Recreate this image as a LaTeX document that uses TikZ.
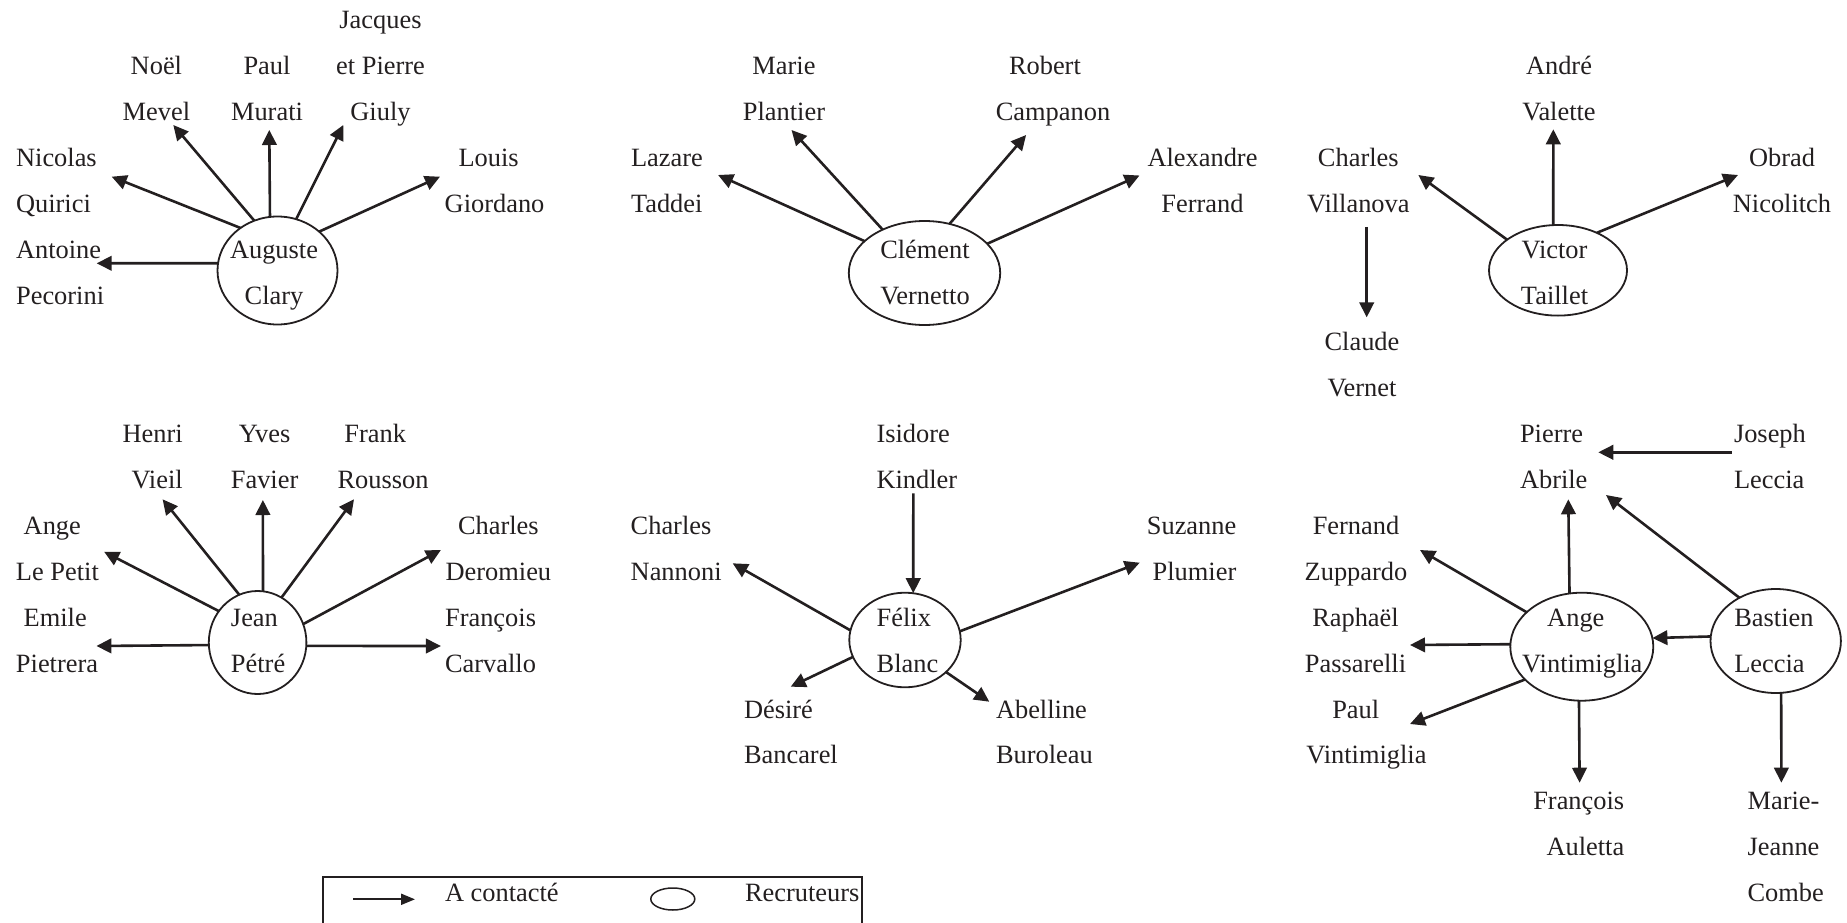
\documentclass[tikz,border=0pt]{standalone}
\usepackage{fontspec}
\setmainfont{Liberation Serif}
\usetikzlibrary{arrows.meta,shapes.geometric,calc}
\definecolor{ink}{HTML}{231F20}
\newcommand\rs{\rule[-14.2pt]{0pt}{45.95pt}}
\begin{document}
\begin{tikzpicture}[x=1pt,y=-1pt,
  person/.style={inner sep=0pt,outer sep=0pt,text=ink,font=\fontsize{26.4pt}{45.95pt}\selectfont},
  nc/.style={person,align=center},
  nl/.style={person,align=left,anchor=west},
  nr/.style={person,align=right,anchor=east},
  lc/.style={person,align=center},
  ll/.style={person,align=left},
  rec/.style={draw=ink,line width=1.8pt,ellipse,inner sep=0pt,outer sep=0pt},
  arr/.style={draw=ink,line width=2.6pt,-{Triangle[length=15pt,width=14.5pt]}},
  legarr/.style={draw=ink,line width=2pt,-{Triangle[length=14pt,width=11pt]}},
]
\useasboundingbox (0,0) rectangle (1847,923);
\clip (0,0) rectangle (1847,923);

% recruiters
\node[rec,minimum width=120pt,minimum height=108pt,
  label={[lc,xshift=-3.5pt,yshift=-2.2pt]center:{\rs Auguste\\\rs Clary}}] (ac) at (277.5,270.5) {};
\node[rec,minimum width=151.4pt,minimum height=104pt,
  label={[lc,xshift=0.5pt,yshift=0.3pt]center:{\rs Clément\\\rs Vernetto}}] (cve) at (924.5,273) {};
\node[rec,minimum width=138pt,minimum height=90.6pt,
  label={[lc,xshift=-3.5pt,yshift=-2.4pt]center:{\rs Victor\\\rs Taillet}}] (vt) at (1558,270.3) {};
\node[rec,minimum width=97.6pt,minimum height=103pt,
  label={[ll,xshift=0.5pt,yshift=2.2pt]center:{\rs Jean\\\rs Pétré}}] (jpe) at (257.6,642.5) {};
\node[rec,minimum width=111.4pt,minimum height=94.6pt,
  label={[ll,xshift=2.5pt,yshift=-0.3pt]center:{\rs Félix\\\rs Blanc}}] (fb) at (905,640) {};
\node[rec,minimum width=143pt,minimum height=108pt,
  label={[ll,xshift=0.5pt,yshift=6.4pt]center:{\rs\hspace*{25pt}Ange\\\rs Vintimiglia}}] (avi) at (1581.8,646.7) {};
\node[rec,minimum width=130.4pt,minimum height=104pt,
  label={[ll,xshift=-1.8pt,yshift=0.7pt]center:{\rs Bastien\\\rs Leccia}}] (bl) at (1775.7,641) {};

% contacted persons
\node[nc] (jp) at (380.5,65.95) {\rs Jacques\\\rs et Pierre\\\rs Giuly};
\node[nc] (nm) at (156.4,88.9) {\rs Noël\\\rs Mevel};
\node[nc] (pm) at (267,88.9) {\rs Paul\\\rs Murati};
\node[nl] (nq) at (16.1,180.8) {\rs Nicolas\\\rs Quirici};
\node[nl] (ap) at (16.1,272.7) {\rs Antoine\\\rs Pecorini};
\node[nl] (lg) at (444.7,180.8) {\rs\hspace*{13.8pt}Louis\\\rs Giordano};
\node[nc] (mp) at (784,88.9) {\rs Marie\\\rs Plantier};
\node[nl] (rc) at (995.8,88.9) {\rs\hspace*{13.2pt}Robert\\\rs Campanon};
\node[nl] (lt) at (631,180.8) {\rs Lazare\\\rs Taddei};
\node[nc] (af) at (1202.5,180.8) {\rs Alexandre\\\rs Ferrand};
\node[nc] (av) at (1559,88.9) {\rs André\\\rs Valette};
\node[nc] (cv) at (1358.3,180.8) {\rs Charles\\\rs Villanova};
\node[nc] (on) at (1782,180.8) {\rs Obrad\\\rs Nicolitch};
\node[nc] (cvn) at (1362,364.6) {\rs Claude\\\rs Vernet};
\node[nr] (hv) at (182.7,456.5) {\rs Henri\\\rs Vieil};
\node[nc] (yf) at (264.6,456.5) {\rs Yves\\\rs Favier};
\node[nl] (fr) at (337.5,456.5) {\rs\hspace*{6.9pt}Frank\\\rs Rousson};
\node[nl] (alp) at (16,548.4) {\rs\hspace*{7.7pt}Ange\\\rs Le Petit};
\node[nl] (ep) at (16,640.3) {\rs\hspace*{7.7pt}Emile\\\rs Pietrera};
\node[nc] (cd) at (498.4,548.4) {\rs Charles\\\rs Deromieu};
\node[nl] (fc) at (445.1,640.3) {\rs François\\\rs Carvallo};
\node[nl] (ik) at (876.5,456.5) {\rs Isidore\\\rs Kindler};
\node[nl] (cn) at (630.7,548.4) {\rs Charles\\\rs Nannoni};
\node[nr] (sp) at (1236.3,548.4) {\rs Suzanne\\\rs Plumier};
\node[nl] (db) at (744,732.2) {\rs Désiré\\\rs Bancarel};
\node[nl] (ab) at (996,732.2) {\rs Abelline\\\rs Buroleau};
\node[nl] (pa) at (1520,456.5) {\rs Pierre\\\rs Abrile};
\node[nl] (jl) at (1734,456.5) {\rs Joseph\\\rs Leccia};
\node[nc] (fz) at (1356,548.4) {\rs Fernand\\\rs Zuppardo};
\node[nc] (rp) at (1355.5,640.3) {\rs Raphaël\\\rs Passarelli};
\node[nl] (pv) at (1306.3,732.2) {\rs\hspace*{26pt}Paul\\\rs Vintimiglia};
\node[nr] (fa) at (1624.2,824.1) {\rs François\\\rs Auletta};
\node[nl] (mjc) at (1747.6,847.1) {\rs Marie-\\\rs Jeanne\\\rs Combe};

% Auguste Clary
\draw[arr] (ac.173.3) -- ($(ap.west)+(80.6,-9.4)$);
\draw[arr] (ac.131.1) -- ($(nq.west)+(95.6,-4.1)$);
\draw[arr] (ac.115.6) -- ($(nm)+(16.9,36.1)$);
\draw[arr] (ac.98.7) -- ($(pm)+(2.3,41.1)$);
\draw[arr] (ac.70.5) -- ($(jp)+(-37.2,59.05)$);
\draw[arr] (ac.43.1) -- ($(lg.west)+(-4.7,-4.1)$);
% Clement Vernetto
\draw[arr] (cve.152.9) -- ($(lt.west)+(87.1,-5.8)$);
\draw[arr] (cve.134.4) -- ($(mp)+(7.5,41.1)$);
\draw[arr] (cve.63.2) -- ($(rc.west)+(30.3,46.1)$);
\draw[arr] (cve.25.2) -- ($(af)+(-63,-5.3)$);
% Victor Taillet
\draw[arr] (vt.149.6) -- ($(cv)+(60,-5.8)$);
\draw[arr] (vt.96.1) -- ($(av)+(-5.7,40.4)$);
\draw[arr] (vt.44.3) -- ($(on)+(-44,-5.8)$);
\draw[arr] ($(cv.south)+(8.4,0)$) -- ($(cvn.north)+(4.7,-1.3)$);
% Jean Petre
\draw[arr] (jpe.183.7) -- ($(ep.west)+(80.4,5.7)$);
\draw[arr] (jpe.356) -- ($(fc.west)+(-4.2,5.7)$);
\draw[arr] (jpe.141.3) -- ($(alp.west)+(88.1,3.3)$);
\draw[arr] (jpe.111.9) -- ($(hv.east)+(-20.1,42.8)$);
\draw[arr] (jpe.84.2) -- ($(yf)+(-1.7,43.5)$);
\draw[arr] (jpe.62.6) -- ($(fr.west)+(16.5,42.8)$);
\draw[arr] (jpe.22.4) -- ($(cd)+(-57.5,1.6)$);
% Felix Blanc
\draw[arr] ($(ik.west)+(36.8,36.8)$) -- (fb.80.6);
\draw[arr] (fb.170.7) -- ($(cn.west)+(102,14.9)$);
\draw[arr] (fb.9.3) -- ($(sp.east)+(-96.6,14.3)$);
\draw[arr] (fb.198.5) -- ($(db.west)+(46.7,-45.5)$);
\draw[arr] (fb.322.4) -- ($(ab.west)+(-6.7,-30.5)$);
% Ange Vintimiglia / Bastien Leccia
\draw[arr] ($(jl.west)+(-2.3,-4.2)$) -- ($(pa.west)+(78.3,-4.2)$);
\draw[arr] (bl.130.2) -- ($(pa.west)+(86,38.5)$);
\draw[arr] (avi.103.8) -- ($(pa.west)+(48.3,42.8)$);
\draw[arr] (avi.148.6) -- ($(fz)+(64,1.6)$);
\draw[arr] (avi.178.7) -- ($(rp)+(54.5,4.7)$);
\draw[arr] (avi.210.6) -- ($(pv.west)+(103.7,-8.2)$);
\draw[arr] (avi.267.7) -- ($(fa.east)+(-44.6,-41.4)$);
\draw[arr] (bl.176.8) -- (avi.7.3);
\draw[arr] (bl.276.1) -- ($(mjc.west)+(33.8,-64.4)$);

% legend
\draw[ink,line width=1.7pt] (322.7,877.3) rectangle (861.8,940);
\coordinate (l1) at (353.3,899.3);
\coordinate (l2) at (415,899.3);
\draw[legarr] (l1) -- (l2);
\node[nl] (lca) at (445,893.05) {\rs A contacté};
\node[rec,line width=1.5pt,minimum width=44pt,minimum height=22pt] (le) at (672.8,899) {};
\node[nl] (lre) at (745,893.05) {\rs Recruteurs};
\end{tikzpicture}
\end{document}
